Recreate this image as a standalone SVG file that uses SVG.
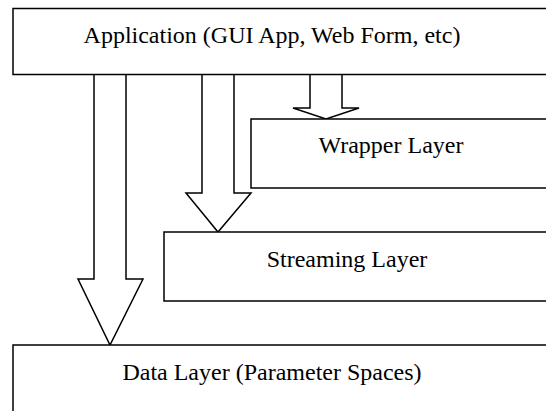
<svg xmlns="http://www.w3.org/2000/svg" width="546" height="411" viewBox="0 0 546 411">
<style>
.box{fill:#fff;stroke:#000;stroke-width:1.5}
.arr{fill:#fff;stroke:#000;stroke-width:1.5;stroke-linejoin:miter}
.lbl{font-family:"Liberation Serif","Times New Roman",serif;font-size:24px;fill:#000;text-anchor:middle}
</style>
<rect width="546" height="411" fill="#fff"/>
<g id="connectors">
<path class="arr" d="M94,74.5 V279 H78 L110,345 L143,279 H126 V74.5"/>
<path class="arr" d="M202,74.5 V193 H186 L218,232 L251,193 H234 V74.5"/>
<path class="arr" d="M310,74.5 V108 H293 L326,119 L359,108 H342 V74.5"/>
</g>
<g id="app">
<rect class="box" x="13" y="8.5" width="560" height="66"/>
<text class="lbl" x="272" y="43">Application (GUI App, Web Form, etc)</text>
</g>
<g id="wrapper">
<rect class="box" x="251" y="119" width="320" height="69"/>
<text class="lbl" x="391" y="153">Wrapper Layer</text>
</g>
<g id="streaming">
<rect class="box" x="164" y="232" width="400" height="69"/>
<text class="lbl" x="347" y="267">Streaming Layer</text>
</g>
<g id="data">
<rect class="box" x="13" y="345" width="560" height="100"/>
<text class="lbl" x="272" y="380">Data Layer (Parameter Spaces)</text>
</g>
</svg>
